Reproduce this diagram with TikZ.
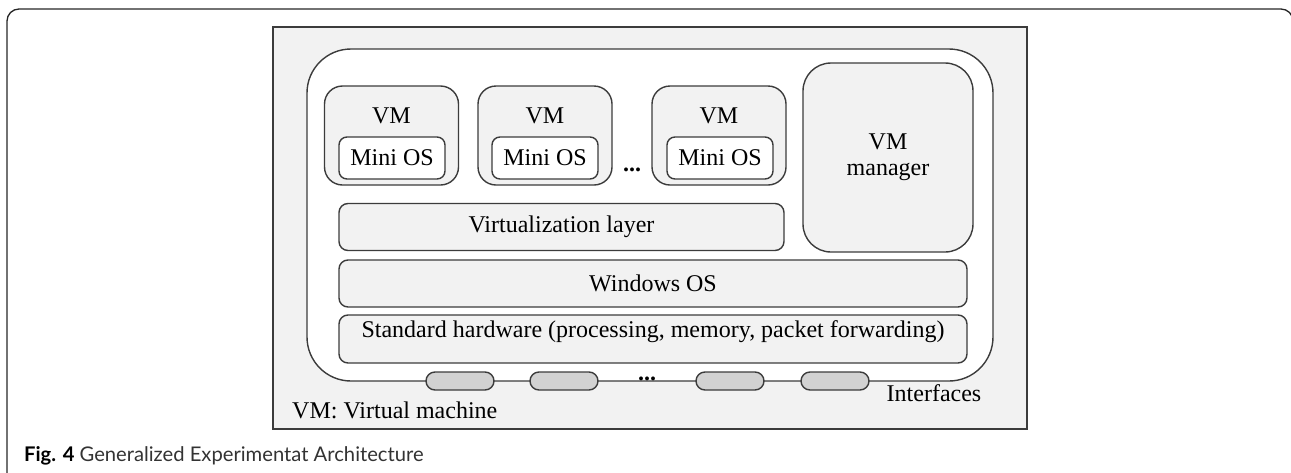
\documentclass[tikz,border=0pt]{standalone}
\usepackage{fontspec}
\setmainfont{Liberation Serif}
\newfontfamily\capfont{Lato}
\usepackage{xcolor}
\usetikzlibrary{positioning}

\definecolor{linegray}{HTML}{3C3C3C}
\definecolor{panelgray}{HTML}{F2F2F2}
\definecolor{ifacegray}{HTML}{D2D2D2}

\begin{document}
\begin{tikzpicture}[x=1pt, y=-1pt,
    % Styles
    txt/.style={font=\fontsize{24}{26}\selectfont, inner sep=0pt},
    boxbase/.style={
        rectangle,
        draw=linegray,
        line width=1.4pt,
        inner sep=0pt
    },
    panel/.style={boxbase, fill=panelgray, minimum width=754pt, minimum height=402pt},
    host/.style={boxbase, fill=white, rounded corners=44pt, minimum width=686pt, minimum height=332pt},
    vmbox/.style={boxbase, fill=panelgray, rounded corners=18pt, minimum width=134pt, minimum height=99pt},
    osbox/.style={boxbase, txt, fill=white, rounded corners=8pt, minimum width=106pt, minimum height=42pt},
    layer/.style={boxbase, txt, fill=panelgray, rounded corners=9pt, minimum height=47pt},
    iface/.style={boxbase, fill=ifacegray, rounded corners=9pt, minimum width=68pt, minimum height=18pt},
    frame/.style={draw=black!85, line width=1.3pt, rounded corners=12pt},
    caption/.style={font=\capfont\fontsize{20.2}{23}\selectfont, inner sep=0pt, text=black!80}
]
\useasboundingbox (0,0) rectangle (1291,472);

% Page frame
\draw[frame] (7,480) -- (7,9) -- (1293,9) -- (1293,480);

% Panel and host
\node[panel] (panel) at (650,228) {};
\node[host] (host) at (650,215) {};

% Virtual machines
\node[vmbox] (vm1) at (391.5,135.5) {};
\node[vmbox] (vm2) at (545,135.5) {};
\node[vmbox] (vm3) at (719,135.5) {};
\node[txt] (vm1t) at (391.5,116) {VM};
\node[txt] (vm2t) at (545,116) {VM};
\node[txt] (vm3t) at (719,116) {VM};
\node[osbox] (os1) at (392,158) {Mini OS};
\node[osbox] (os2) at (545,158) {Mini OS};
\node[osbox] (os3) at (720,158) {Mini OS};
\node[txt, font=\fontsize{24}{26}\selectfont\bfseries] (vmdots) at (632,170) {...};

% Manager
\node[boxbase, txt, fill=panelgray, rounded corners=28pt,
      minimum width=170pt, minimum height=189pt, align=center] (mgr) at (888,157.5) {VM\\manager};

% Layers
\node[layer, minimum width=445pt] (virt) at (561.5,227) {Virtualization layer};
\node[layer, minimum width=628pt] (win) at (653,283.5) {Windows OS};
\node[layer, minimum width=628pt, minimum height=48pt] (hw) at (653,339) {};
\node[txt] (hwt) at ([yshift=7pt]hw.center) {Standard hardware (processing, memory, packet forwarding)};

% Interfaces
\node[iface] (if1) at (460,381) {};
\node[iface] (if2) at (564,381) {};
\node[iface] (if3) at (730,381) {};
\node[iface] (if4) at (835,381) {};
\node[txt, font=\fontsize{24}{26}\selectfont\bfseries] (ifdots) at (647,379) {...};
\node[txt] (iflabel) at (934,393) {Interfaces};

% Legend and caption
\node[txt, anchor=west] (legend) at (292,410) {VM: Virtual machine};
\node[caption, anchor=west] (cap) at (24,456) {\textcolor{black}{\textbf{Fig. 4}} Generalized Experimentat Architecture};

\end{tikzpicture}
\end{document}
